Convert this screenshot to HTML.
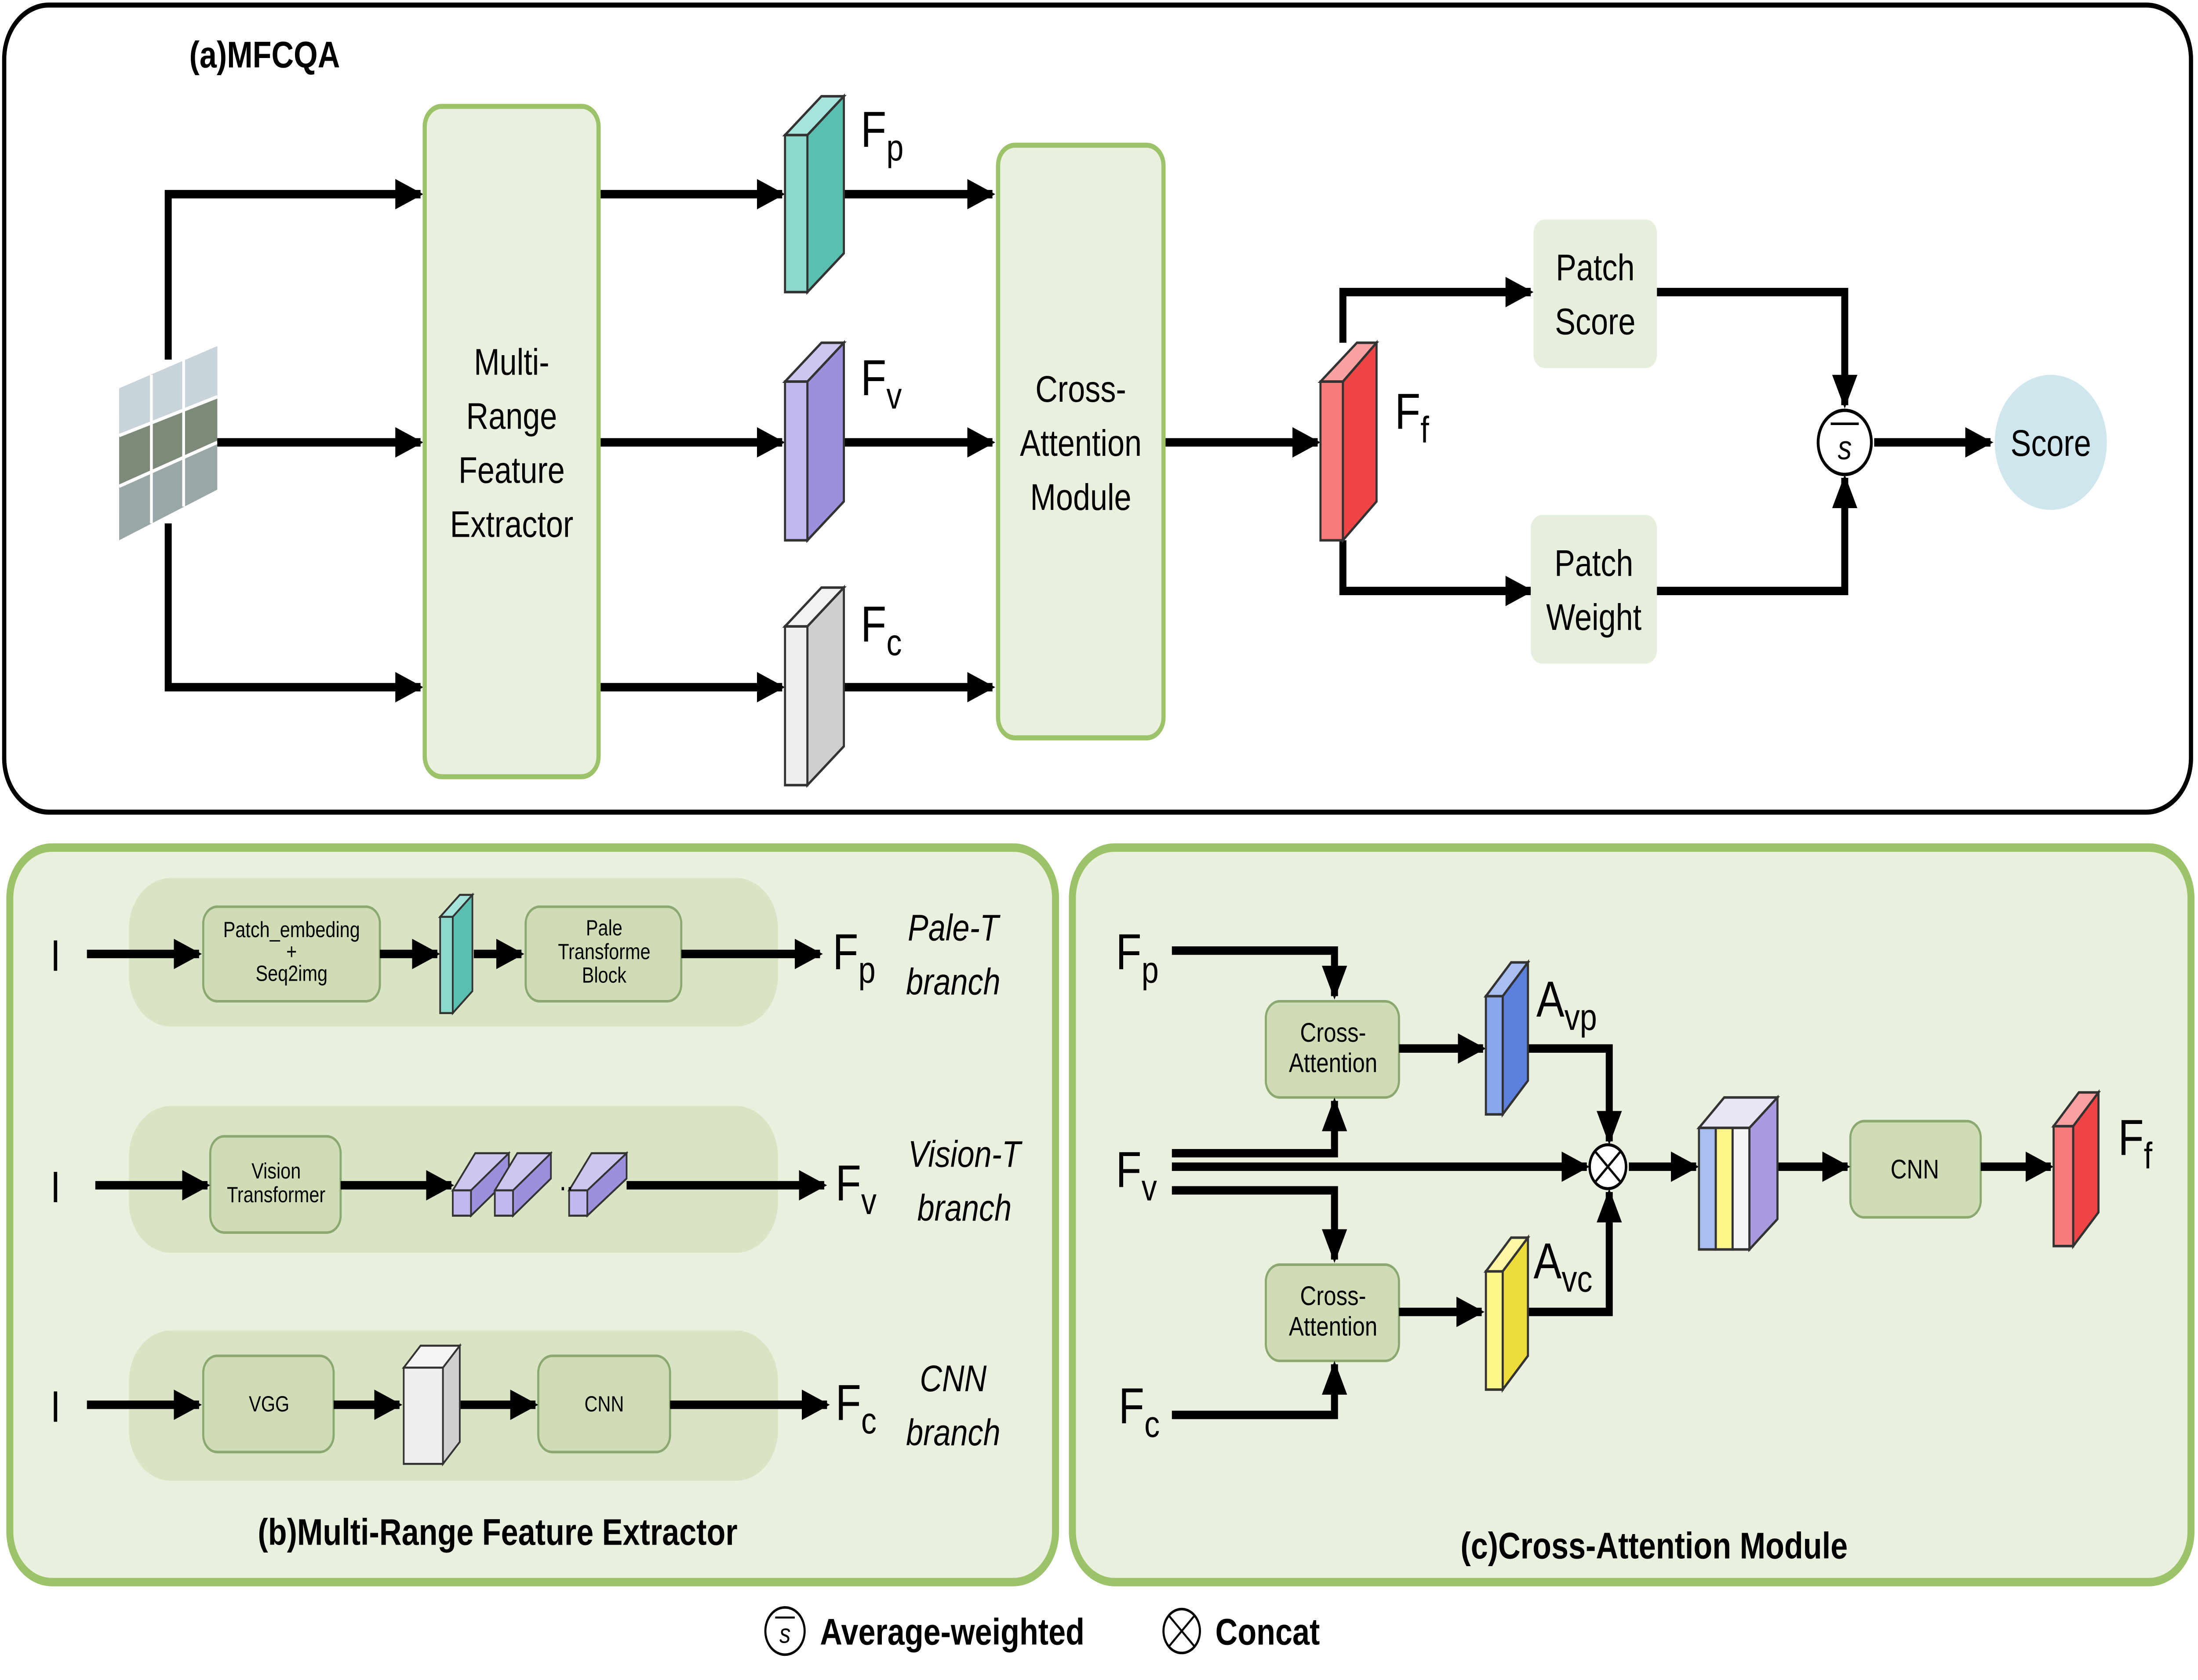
<!DOCTYPE html>
<html><head><meta charset="utf-8"><style>html,body{margin:0;padding:0;background:#fff;width:100%;height:100%;overflow:hidden}svg{display:block;width:100vw;height:100vh}text{font-family:"Liberation Sans",sans-serif}</style></head><body>
<svg viewBox="0 0 1568 995" preserveAspectRatio="none" xmlns="http://www.w3.org/2000/svg">
<defs>
<marker id="a" markerUnits="userSpaceOnUse" markerWidth="20" markerHeight="18" refX="18" refY="9" orient="auto"><path d="M0,0 L20,9 L0,18 z" fill="#000"/></marker>
</defs>
<rect x="3" y="3" width="1560" height="478" rx="32" fill="#fff" stroke="#000" stroke-width="3"/>
<text x="135" y="40" font-size="22" font-weight="bold">(a)MFCQA</text>
<g>
<polygon points="85,230 155,205 155,290 85,320" fill="#9aa7a8"/>
<polygon points="85,230 155,205 155,235 85,258" fill="#c9d4da"/>
<polygon points="85,258 155,235 155,262 85,288" fill="#7d8a7a"/>
<g stroke="#fff" stroke-width="2"><line x1="108" y1="222" x2="108" y2="310"/><line x1="131" y1="213" x2="131" y2="300"/><line x1="85" y1="258" x2="155" y2="235"/><line x1="85" y1="288" x2="155" y2="262"/></g>
</g>
<g stroke="#000" stroke-width="5" fill="none" marker-end="url(#a)">
<polyline points="120,213 120,115 300,115"/>
<line x1="155" y1="262" x2="300" y2="262"/>
<polyline points="120,310 120,407 300,407"/>
<line x1="427" y1="115" x2="558" y2="115"/>
<line x1="427" y1="262" x2="558" y2="262"/>
<line x1="427" y1="407" x2="558" y2="407"/>
<line x1="602" y1="115" x2="708" y2="115"/>
<line x1="602" y1="262" x2="708" y2="262"/>
<line x1="602" y1="407" x2="708" y2="407"/>
<line x1="830" y1="262" x2="940" y2="262"/>
<polyline points="958,203 958,173 1092,173"/>
<polyline points="958,320 958,350 1092,350"/>
<polyline points="1182,173 1316,173 1316,240"/>
<polyline points="1182,350 1316,350 1316,283"/>
<line x1="1337" y1="262" x2="1420" y2="262"/>
</g>
<rect x="303" y="63" width="124" height="397" rx="12" fill="#e9f0de" stroke="#9dc36a" stroke-width="3"/>
<g font-size="22" text-anchor="middle"><text x="365" y="222">Multi-</text><text x="365" y="254">Range</text><text x="365" y="286">Feature</text><text x="365" y="318">Extractor</text></g>
<rect x="712" y="86" width="118" height="351" rx="12" fill="#e9f0de" stroke="#9dc36a" stroke-width="3"/>
<g font-size="22" text-anchor="middle"><text x="771" y="238">Cross-</text><text x="771" y="270">Attention</text><text x="771" y="302">Module</text></g>
<g stroke="#333" stroke-width="1.5">
<polygon points="560,80 586,57 602,57 576,80" fill="#a6e3da"/><rect x="560" y="80" width="16" height="93" fill="#8dd8cc"/><polygon points="576,80 602,57 602,150 576,173" fill="#5bbfb0"/>
<polygon points="560,226 586,203 602,203 576,226" fill="#cfc6f0"/><rect x="560" y="226" width="16" height="94" fill="#c3b8ee"/><polygon points="576,226 602,203 602,297 576,320" fill="#9e8fdc"/>
<polygon points="560,371 586,348 602,348 576,371" fill="#f2f2f2"/><rect x="560" y="371" width="16" height="94" fill="#efefef"/><polygon points="576,371 602,348 602,442 576,465" fill="#cfcfcf"/>
<polygon points="942,226 968,203 982,203 958,226" fill="#f9a0a0"/><rect x="942" y="226" width="16" height="94" fill="#f87b7b"/><polygon points="958,226 982,203 982,297 958,320" fill="#ee4444"/>
</g>
<g font-size="30"><text x="614" y="87">F<tspan font-size="22" dy="8">p</tspan></text><text x="614" y="234">F<tspan font-size="22" dy="8">v</tspan></text><text x="614" y="380">F<tspan font-size="22" dy="8">c</tspan></text><text x="995" y="254">F<tspan font-size="22" dy="8">f</tspan></text></g>
<rect x="1094" y="130" width="88" height="88" rx="8" fill="#e6efdb"/>
<rect x="1092" y="305" width="90" height="88" rx="8" fill="#e6efdb"/>
<g font-size="22" text-anchor="middle"><text x="1138" y="166">Patch</text><text x="1138" y="198">Score</text><text x="1137" y="341">Patch</text><text x="1137" y="373">Weight</text></g>
<circle cx="1316" cy="262" r="19" fill="#fff" stroke="#000" stroke-width="2"/>
<line x1="1306" y1="251" x2="1326" y2="251" stroke="#000" stroke-width="1.5"/>
<text x="1316" y="272" font-size="20" font-style="italic" text-anchor="middle" font-family="Liberation Serif">s</text>
<circle cx="1463" cy="262" r="40" fill="#cfe6ee"/>
<text x="1463" y="270" font-size="22" text-anchor="middle">Score</text>

<rect x="7" y="502" width="746" height="435" rx="30" fill="#e9f0de" stroke="#9dc36a" stroke-width="5"/>
<rect x="92" y="520" width="463" height="88" rx="30" fill="#d8e4c4"/>
<rect x="92" y="655" width="463" height="87" rx="30" fill="#d8e4c4"/>
<rect x="92" y="788" width="463" height="89" rx="30" fill="#d8e4c4"/>
<g fill="#cfdcb5" stroke="#8aa870" stroke-width="1.5">
<rect x="145" y="537" width="126" height="56" rx="10"/><rect x="375" y="537" width="111" height="56" rx="10"/>
<rect x="150" y="673" width="93" height="57" rx="10"/>
<rect x="145" y="803" width="93" height="57" rx="10"/><rect x="384" y="803" width="94" height="57" rx="10"/>
</g>
<g font-size="13" text-anchor="middle"><text x="208" y="555">Patch_embeding</text><text x="208" y="568">+</text><text x="208" y="581">Seq2img</text>
<text x="431" y="554">Pale</text><text x="431" y="568">Transforme</text><text x="431" y="582">Block</text>
<text x="197" y="698">Vision</text><text x="197" y="712">Transformer</text>
<text x="192" y="836">VGG</text><text x="431" y="836">CNN</text></g>
<g stroke="#000" stroke-width="5" fill="none" marker-end="url(#a)">
<line x1="62" y1="565" x2="142" y2="565"/><line x1="271" y1="565" x2="312" y2="565"/><line x1="338" y1="565" x2="372" y2="565"/><line x1="486" y1="565" x2="585" y2="565"/>
<line x1="68" y1="702" x2="148" y2="702"/><line x1="243" y1="702" x2="322" y2="702"/><line x1="447" y1="702" x2="588" y2="702"/>
<line x1="62" y1="832" x2="142" y2="832"/><line x1="238" y1="832" x2="285" y2="832"/><line x1="328" y1="832" x2="382" y2="832"/><line x1="478" y1="832" x2="590" y2="832"/>
</g>
<g stroke="#333" stroke-width="1.2">
<polygon points="314,543 328,530 337,530 323,543" fill="#a6e3da"/><rect x="314" y="543" width="9" height="57" fill="#8dd8cc"/><polygon points="323,543 337,530 337,587 323,600" fill="#5bbfb0"/>
<polygon points="323,705 339,683 363,683 347,705" fill="#cfc6f0"/><rect x="323" y="705" width="13" height="15" fill="#c3b8ee"/><polygon points="336,705 363,683 363,698 336,720" fill="#9e8fdc"/>
<polygon points="353,705 369,683 393,683 377,705" fill="#cfc6f0"/><rect x="353" y="705" width="13" height="15" fill="#c3b8ee"/><polygon points="366,705 393,683 393,698 366,720" fill="#9e8fdc"/>
<polygon points="406,705 422,683 447,683 431,705" fill="#cfc6f0"/><rect x="406" y="705" width="13" height="15" fill="#c3b8ee"/><polygon points="419,705 447,683 447,698 419,720" fill="#9e8fdc"/>
<polygon points="288,810 300,797 328,797 316,810" fill="#f5f5f5"/><rect x="288" y="810" width="28" height="57" fill="#efefef"/><polygon points="316,810 328,797 328,854 316,867" fill="#cfcfcf"/>
</g>
<text x="399" y="705" font-size="18">..</text>
<g font-size="26"><text x="36" y="575">I</text><text x="36" y="712">I</text><text x="36" y="842">I</text></g>
<g font-size="30"><text x="594" y="574">F<tspan font-size="22" dy="8">p</tspan></text><text x="596" y="711">F<tspan font-size="22" dy="8">v</tspan></text><text x="596" y="841">F<tspan font-size="22" dy="8">c</tspan></text></g>
<g font-size="22" font-style="italic" text-anchor="middle"><text x="680" y="557">Pale-T</text><text x="680" y="589">branch</text><text x="688" y="691">Vision-T</text><text x="688" y="723">branch</text><text x="680" y="824">CNN</text><text x="680" y="856">branch</text></g>
<text x="355" y="915" font-size="22" font-weight="bold" text-anchor="middle">(b)Multi-Range Feature Extractor</text>

<rect x="765" y="502" width="798" height="435" rx="30" fill="#e9f0de" stroke="#9dc36a" stroke-width="5"/>
<g fill="#cfdcb5" stroke="#8aa870" stroke-width="1.5">
<rect x="903" y="593" width="95" height="57" rx="10"/><rect x="903" y="749" width="95" height="57" rx="10"/><rect x="1320" y="664" width="93" height="57" rx="10"/>
</g>
<g font-size="16" text-anchor="middle"><text x="951" y="617">Cross-</text><text x="951" y="635">Attention</text><text x="951" y="773">Cross-</text><text x="951" y="791">Attention</text><text x="1366" y="698">CNN</text></g>
<g stroke="#000" stroke-width="5" fill="none" marker-end="url(#a)">
<polyline points="836,563 952,563 952,590"/>
<line x1="998" y1="621" x2="1058" y2="621"/>
<polyline points="1090,621 1148,621 1148,676"/>
<polyline points="836,683 952,683 952,652"/>
<line x1="836" y1="691" x2="1132" y2="691"/>
<polyline points="836,705 952,705 952,746"/>
<line x1="998" y1="777" x2="1057" y2="777"/>
<polyline points="1090,777 1148,777 1148,706"/>
<polyline points="836,838 952,838 952,808"/>
<line x1="1162" y1="691" x2="1210" y2="691"/>
<line x1="1268" y1="691" x2="1318" y2="691"/>
<line x1="1413" y1="691" x2="1463" y2="691"/>
</g>
<circle cx="1147" cy="691" r="13" fill="#fff" stroke="#000" stroke-width="1.8"/>
<path d="M1138,682 L1156,700 M1156,682 L1138,700" stroke="#000" stroke-width="1.5"/>
<g stroke="#333" stroke-width="1.5">
<polygon points="1060,590 1078,570 1090,570 1072,590" fill="#a9bff2"/><rect x="1060" y="590" width="12" height="70" fill="#8aa8ee"/><polygon points="1072,590 1090,570 1090,640 1072,660" fill="#5b7fdc"/>
<polygon points="1060,753 1078,733 1090,733 1072,753" fill="#fff7a6"/><rect x="1060" y="753" width="12" height="70" fill="#fff68a"/><polygon points="1072,753 1090,733 1090,803 1072,823" fill="#eedc3a"/>
<polygon points="1465,667 1483,647 1497,647 1479,667" fill="#f9a0a0"/><rect x="1465" y="667" width="14" height="71" fill="#f87b7b"/><polygon points="1479,667 1497,647 1497,718 1479,738" fill="#ee4444"/>
<polygon points="1212,668 1230,650 1268,650 1250,668" fill="#e6e6f5"/>
<rect x="1212" y="668" width="12" height="72" fill="#a9bff2"/><rect x="1224" y="668" width="12" height="72" fill="#fff68a"/><rect x="1236" y="668" width="12" height="72" fill="#f5f5f5"/>
<polygon points="1248,668 1268,650 1268,722 1248,740" fill="#a99ae0"/>
</g>
<g font-size="30"><text x="796" y="574">F<tspan font-size="22" dy="8">p</tspan></text><text x="796" y="703">F<tspan font-size="22" dy="8">v</tspan></text><text x="798" y="843">F<tspan font-size="22" dy="8">c</tspan></text>
<text x="1096" y="602">A<tspan font-size="22" dy="8">vp</tspan></text><text x="1094" y="757">A<tspan font-size="22" dy="8">vc</tspan></text><text x="1511" y="684">F<tspan font-size="22" dy="8">f</tspan></text></g>
<text x="1180" y="923" font-size="22" font-weight="bold" text-anchor="middle">(c)Cross-Attention Module</text>

<circle cx="560" cy="966" r="14" fill="#fff" stroke="#000" stroke-width="1.5"/>
<line x1="553" y1="958" x2="567" y2="958" stroke="#000" stroke-width="1.2"/>
<text x="560" y="973" font-size="16" font-style="italic" text-anchor="middle" font-family="Liberation Serif">s</text>
<text x="585" y="974" font-size="22" font-weight="bold">Average-weighted</text>
<circle cx="843" cy="966" r="13" fill="#fff" stroke="#000" stroke-width="1.5"/>
<path d="M834,957 L852,975 M852,957 L834,975" stroke="#000" stroke-width="1.3"/>
<text x="867" y="974" font-size="22" font-weight="bold">Concat</text>
</svg>
</body></html>
